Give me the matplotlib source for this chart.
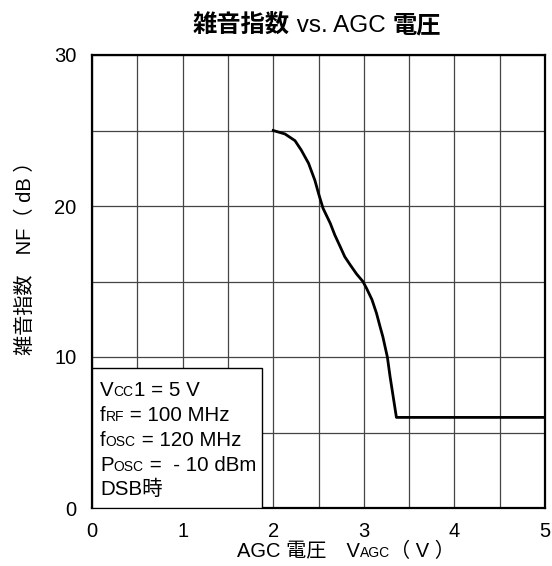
import matplotlib
matplotlib.use('Agg')
import matplotlib.pyplot as plt
from matplotlib.patches import Rectangle
from matplotlib.transforms import IdentityTransform

plt.rcParams['font.family'] = ['Liberation Sans', 'Noto Sans CJK JP']

# values
agc_v = [2.0, 2.13, 2.24, 2.31, 2.39, 2.46, 2.50, 2.55, 2.63, 2.68, 2.74, 2.79, 2.85, 2.92, 2.99,
         3.03, 3.09, 3.14, 3.18, 3.21, 3.26, 3.29, 3.36, 5.0]
nf_db = [25.0, 24.77, 24.33, 23.7, 22.83, 21.7, 20.84, 19.85, 18.85, 18.08, 17.3, 16.64, 16.1, 15.5, 15.0,
         14.55, 13.8, 12.9, 12.0, 11.35, 10.0, 8.7, 6.0, 6.0]

x_ticks = [0, 1, 2, 3, 4, 5]
y_ticks = [0, 10, 20, 30]

W, H = 552, 566
fig = plt.figure(figsize=(W / 100, H / 100), dpi=100)
ax = fig.add_axes([92 / W, 1 - 508 / H, (545 - 92) / W, (508 - 55) / H])

ax.plot(agc_v, nf_db, color='black', lw=2.0, zorder=4, solid_joinstyle='round')

ax.set_xlim(0, 5)
ax.set_ylim(0, 30)
ax.set_xticks(x_ticks)
ax.set_yticks(y_ticks)
ax.set_xticks([v + 0.5 for v in x_ticks[:-1]], minor=True)
ax.set_yticks([v + 5 for v in y_ticks[:-1]], minor=True)
ax.grid(True, which='both', color='#444444', lw=0.9)
ax.set_axisbelow(True)
ax.tick_params(which='both', length=0, labelsize=14.5)
ax.tick_params(axis='x', pad=10)
ax.tick_params(axis='y', pad=11)
for s in ax.spines.values():
    s.set_linewidth(1.6)

# conditions box in the lower left corner
ax.add_patch(Rectangle((0, 0), 1.88, 9.27, facecolor='white', edgecolor='black', lw=1.0, zorder=3))

renderer = fig.canvas.get_renderer()


def rich(x, y, parts, ha='left'):
    # parts: (string, size, weight) drawn one after another on the same baseline, x/y in pixels from top-left
    texts = []
    for s, size, weight in parts:
        t = fig.text(0, 0, s, fontsize=size, fontweight=weight, va='baseline', ha='left',
                     transform=IdentityTransform(), zorder=6)
        texts.append(t)
    widths = [t.get_window_extent(renderer).width for t in texts]
    total = sum(widths)
    x0 = x - total / 2 if ha == 'center' else x
    for t, w in zip(texts, widths):
        t.set_position((x0, H - y))
        x0 += w


big, small = 14.8, 10
rich(100, 396, [('V', big, 'normal'), ('CC', small, 'normal'), ('1 = 5 V', big, 'normal')])
rich(100, 421, [('f', big, 'normal'), ('RF', small, 'normal'), (' = 100 MHz', big, 'normal')])
rich(100, 446, [('f', big, 'normal'), ('OSC', small, 'normal'), (' = 120 MHz', big, 'normal')])
rich(100, 471, [('P', big, 'normal'), ('OSC', small, 'normal'), (' =  - 10 dBm', big, 'normal')])
rich(100, 495, [('DSB時', big, 'normal')])

# title and axis labels
rich(317, 32, [('雑音指数', 17.5, 'bold'), (' vs. AGC ', 17.5, 'normal'), ('電圧', 17.5, 'bold')], ha='center')
rich(346, 557, [('AGC 電圧　V', 14.5, 'normal'), ('AGC', small, 'normal'), ('（ V ）', 14.5, 'normal')], ha='center')
fig.text(25, H - 253, '雑音指数　NF（ dB ）', fontsize=14.5, rotation=90, ha='center', va='center',
         transform=IdentityTransform())

fig.savefig('out.png')
